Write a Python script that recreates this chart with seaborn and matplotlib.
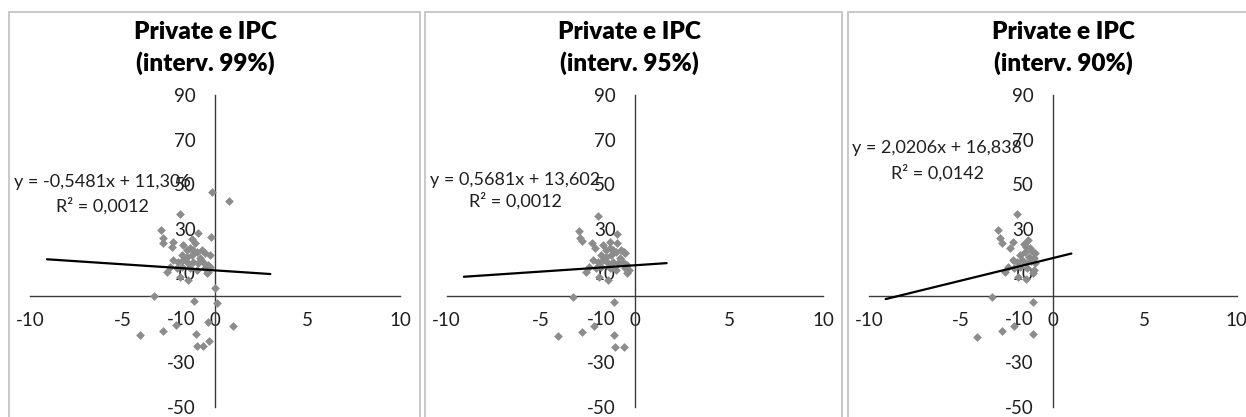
import matplotlib
matplotlib.use("Agg")
import matplotlib.pyplot as plt
from matplotlib.patches import Rectangle
import seaborn as sns
import pandas as pd

# ---- data -------------------------------------------------------------
panel_titles = ["Private e IPC\n(interv. 99%)",
                "Private e IPC\n(interv. 95%)",
                "Private e IPC\n(interv. 90%)"]

x_99 = [-0.18, 0.77, -1.89, -2.94, -0.90, -2.83, -2.79, -0.23, -2.25, -2.34, -1.26, -1.08, -1.71,
        -1.53, -1.35, -1.17, -0.99, -0.72, -0.54, -0.27,
        -1.80, -1.53, -1.26, -0.81,
        -2.25, -1.98, -1.71, -1.44, -1.17, -0.90, -0.63, -0.36,
        -2.43, -2.07, -1.80, -1.35, -0.99, -0.54, -0.27, -0.36,
        -2.61, -1.89, -1.44, -0.45,
        -3.30, -1.14, 0.00, 0.13, -0.36, 0.99, -2.10, -2.83, -4.08, -1.04, -0.96, -0.63, -0.32]
y_99 = [46.6, 42.6, 36.5, 29.4, 28.2, 25.7, 23.5, 26.4, 24.2, 21.7, 25.3, 23.5, 22.7,
        20.5, 21.2, 20.5, 19.7, 20.5, 19.0, 18.2,
        18.2, 17.5, 18.2, 16.7,
        16.0, 15.2, 16.0, 14.5, 15.2, 14.5, 15.2, 13.7,
        13.0, 12.2, 13.0, 12.2, 11.5, 12.2, 13.0, 10.7,
        10.7, 8.5, 7.0, 10.0,
        -0.2, -2.3, 3.3, -3.5, -11.7, -13.6, -13.2, -15.7, -17.7, -17.2, -22.6, -22.6, -20.2]

x_95 = [-1.97, -2.97, -0.95, -2.92, -2.83, -2.29, -2.15, -1.31, -0.95, -0.59, -1.71,
        -1.53, -1.35, -1.17, -0.99, -0.72, -0.54,
        -1.80, -1.53, -1.26, -0.81,
        -2.25, -1.98, -1.71, -1.44, -1.17, -0.90, -0.63, -0.41,
        -2.43, -2.07, -1.80, -1.35, -0.99, -0.54, -0.32,
        -2.61, -1.89, -1.44, -0.45,
        -3.28, -1.13, -2.20, -2.83, -4.09, -1.13, -1.04, -0.59]
y_95 = [35.7, 29.0, 27.6, 25.7, 24.5, 23.5, 21.2, 24.2, 23.5, 19.7, 22.7,
        20.5, 21.2, 20.5, 19.7, 20.5, 19.0,
        18.2, 17.5, 18.2, 16.7,
        16.0, 15.2, 16.0, 14.5, 15.2, 14.5, 15.2, 13.7,
        13.0, 12.2, 13.0, 12.2, 11.5, 12.2, 11.5,
        10.7, 8.5, 7.0, 10.0,
        -0.8, -2.7, -13.6, -16.2, -18.1, -17.7, -22.9, -22.9]

x_90 = [-1.96, -2.97, -2.87, -2.78, -2.18, -2.33, -1.35, -1.60, -1.45, -1.25, -1.15, -1.00,
        -1.50, -1.80, -1.30, -1.05,
        -2.20, -1.95, -1.70, -1.45, -1.20, -1.00,
        -2.45, -2.10, -1.80, -1.40, -1.05,
        -2.60, -1.90, -1.45, -1.10,
        -3.33, -1.11, -2.15, -2.78, -4.11, -1.11]
y_90 = [36.5, 29.4, 25.7, 23.7, 24.2, 21.2, 25.0, 23.0, 22.0, 21.5, 20.0, 19.0,
        19.5, 18.0, 17.5, 17.0,
        16.0, 15.2, 16.0, 14.8, 15.5, 14.5,
        13.0, 12.2, 13.0, 12.2, 11.5,
        10.7, 8.5, 7.5, 10.0,
        -0.8, -2.7, -13.6, -15.7, -18.4, -17.4]

# linear trend equations printed on each panel
slopes = [-0.5481, 0.5681, 2.0206]
intercepts = [11.306, 13.602, 16.838]
r_squared = [0.0012, 0.0012, 0.0142]

x_ticks = [-10, -5, 0, 5, 10]
y_ticks = [-50, -30, -10, 10, 30, 50, 70, 90]

# ---- styling ----------------------------------------------------------
sns.set_theme(style="white")
plt.rcParams["font.family"] = ["Lato", "DejaVu Sans"]
plt.rcParams["axes.unicode_minus"] = False

W, H = 1246, 417
fig = plt.figure(figsize=(W / 100, H / 100), dpi=100)
fig.patch.set_facecolor("white")


def fx(px):
    return px / W


def fy(py):
    return 1 - py / H


# chart-area frames (left, right edges in pixels)
frames = [(9, 420), (425, 841.5), (848, 1252)]
for l, r in frames:
    fig.patches.append(Rectangle((fx(l), fy(H + 5)), fx(r - l), fy(12) - fy(H + 5),
                                 transform=fig.transFigure, fill=False,
                                 edgecolor="#c4c4c4", linewidth=1.3, zorder=0))

# plot-area placement: (left px, width px)
plot_boxes = [(30, 370), (446.7, 376.6), (869.3, 367.4)]
title_cx = [205, 629, 1063]
eq_pos = [(102.5, 187.3, 211.7), (515, 185.0, 206.7), (937.5, 152.7, 179.0)]

data = [(x_99, y_99), (x_95, y_95), (x_90, y_90)]
ink = "#1f1f1f"

for i, ((xs, ys), (left, width)) in enumerate(zip(data, plot_boxes)):
    ax = fig.add_axes([fx(left), fy(407), fx(width), fy(95) - fy(407)])
    ax.set_facecolor("none")
    df = pd.DataFrame({"x": xs, "y": ys})
    sns.scatterplot(data=df, x="x", y="y", ax=ax, marker="D", s=20,
                    color="#8c8c8c", linewidth=0, zorder=3, clip_on=False)

    # trend line with 5 units backward and 2 units forward forecast
    m, b = slopes[i], intercepts[i]
    x0, x1 = min(xs) - 5, max(xs) + 2
    line_df = pd.DataFrame({"x": [x0, x1], "y": [m * x0 + b, m * x1 + b]})
    sns.lineplot(data=line_df, x="x", y="y", ax=ax, color="black",
                 linewidth=1.6, zorder=4)

    ax.set_xlim(-10, 10)
    ax.set_ylim(-50, 90)
    ax.set_xticks(x_ticks)
    ax.set_yticks(y_ticks)
    ax.set_xlabel("")
    ax.set_ylabel("")
    for side in ("top", "right"):
        ax.spines[side].set_visible(False)
    for side in ("left", "bottom"):
        ax.spines[side].set_position(("data", 0))
        ax.spines[side].set_color("#3a3a3a")
        ax.spines[side].set_linewidth(1.0)
    ax.tick_params(axis="both", length=0, labelsize=13.5, colors=ink)
    ax.tick_params(axis="y", pad=14)
    ax.tick_params(axis="x", pad=12)

    # two-line title
    line1, line2 = panel_titles[i].split("\n")
    fig.text(fx(title_cx[i]), fy(39.3), line1, ha="center", va="baseline",
             fontsize=17.5, fontweight="heavy", color="black")
    fig.text(fx(title_cx[i]), fy(70.7), line2, ha="center", va="baseline",
             fontsize=17.5, fontweight="heavy", color="black")

    # regression equation
    ex, ey1, ey2 = eq_pos[i]
    eq = f"y = {m:.4f}x + {b:.3f}".replace(".", ",")
    r2 = f"R\u00b2 = {r_squared[i]:.4f}".replace(".", ",")
    fig.text(fx(ex), fy(ey1), eq, ha="center", va="baseline", fontsize=13, color=ink)
    fig.text(fx(ex), fy(ey2), r2, ha="center", va="baseline", fontsize=13, color=ink)

fig.savefig("out.png", dpi=100)
